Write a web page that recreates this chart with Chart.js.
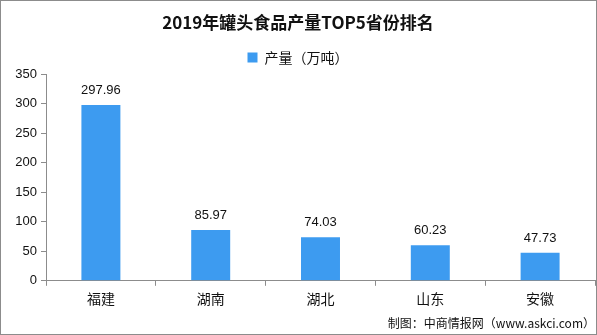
<!DOCTYPE html>
<html><head><meta charset="utf-8">
<script src="https://cdn.jsdelivr.net/npm/chart.js@4"></script>
<style>
html,body{margin:0;padding:0;background:#fff;}
#wrap{position:relative;width:595px;height:333px;border:1px solid #8c8c8c;}
</style></head>
<body><div id="wrap"><canvas id="c" width="595" height="333"></canvas></div>
<script>
const categories = ['福建','湖南','湖北','山东','安徽'];
const values = [297.96, 85.97, 74.03, 60.23, 47.73];
const yTicks = [0,50,100,150,200,250,300,350];
const seriesName = '产量（万吨）';
const titleText = '2019年罐头食品产量TOP5省份排名';
const sourceText = '制图：中商情报网（www.askci.com）';

const fontCJK = "'Noto Sans CJK SC', 'SimSun', sans-serif";
const fontNum = "'Liberation Sans', Arial, sans-serif";

const labelPlugin = {
  id: 'valueLabels',
  afterDatasetsDraw(chart) {
    const ctx = chart.ctx;
    const meta = chart.getDatasetMeta(0);
    ctx.save();
    ctx.fillStyle = '#111';
    ctx.font = "13px " + fontNum;
    ctx.textAlign = 'center';
    ctx.textBaseline = 'bottom';
    meta.data.forEach((bar, i) => {
      ctx.fillText(values[i].toFixed(2), bar.x, bar.y - 8);
    });
    ctx.restore();
  }
};

new Chart(document.getElementById('c'), {
  type: 'bar',
  data: {
    labels: categories,
    datasets: [{
      label: seriesName,
      data: values,
      backgroundColor: '#3d9bf0',
      borderWidth: 0,
      categoryPercentage: 1.0,
      barPercentage: 0.355
    }]
  },
  options: {
    responsive: false,
    animation: false,
    devicePixelRatio: 1,
    layout: { padding: { left: 0, right: 1, top: 5, bottom: 3 } },
    plugins: {
      title: {
        display: true, text: titleText, color: '#111',
        font: { family: fontCJK, size: 17, weight: 'bold' },
        padding: { top: 6, bottom: 10 }
      },
      legend: {
        display: true,
        labels: {
          color: '#111', boxWidth: 10, boxHeight: 10, padding: 8,
          font: { family: fontCJK, size: 14 }
        }
      },
      subtitle: {
        display: true, text: sourceText, position: 'bottom', align: 'end',
        color: '#111', font: { family: fontCJK, size: 12 },
        padding: { top: 6, bottom: 0 }
      },
      tooltip: { enabled: false }
    },
    scales: {
      x: {
        offset: true,
        border: { color: '#8c8c8c', width: 1 },
        grid: { offset: true, drawOnChartArea: false, color: '#8c8c8c', tickLength: 5 },
        ticks: { color: '#111', font: { family: fontCJK, size: 14 }, padding: 4 },
      },
      y: {
        min: 0, max: 350,
        afterBuildTicks(scale) { scale.ticks = yTicks.map(v => ({ value: v })); },
        afterFit(scale) { scale.width = 45; },
        border: { color: '#8c8c8c', width: 1 },
        grid: { drawOnChartArea: false, color: '#8c8c8c', tickLength: 5 },
        ticks: { color: '#111', font: { family: fontNum, size: 13 }, padding: 4 }
      }
    }
  },
  plugins: [labelPlugin]
});
</script></body></html>
